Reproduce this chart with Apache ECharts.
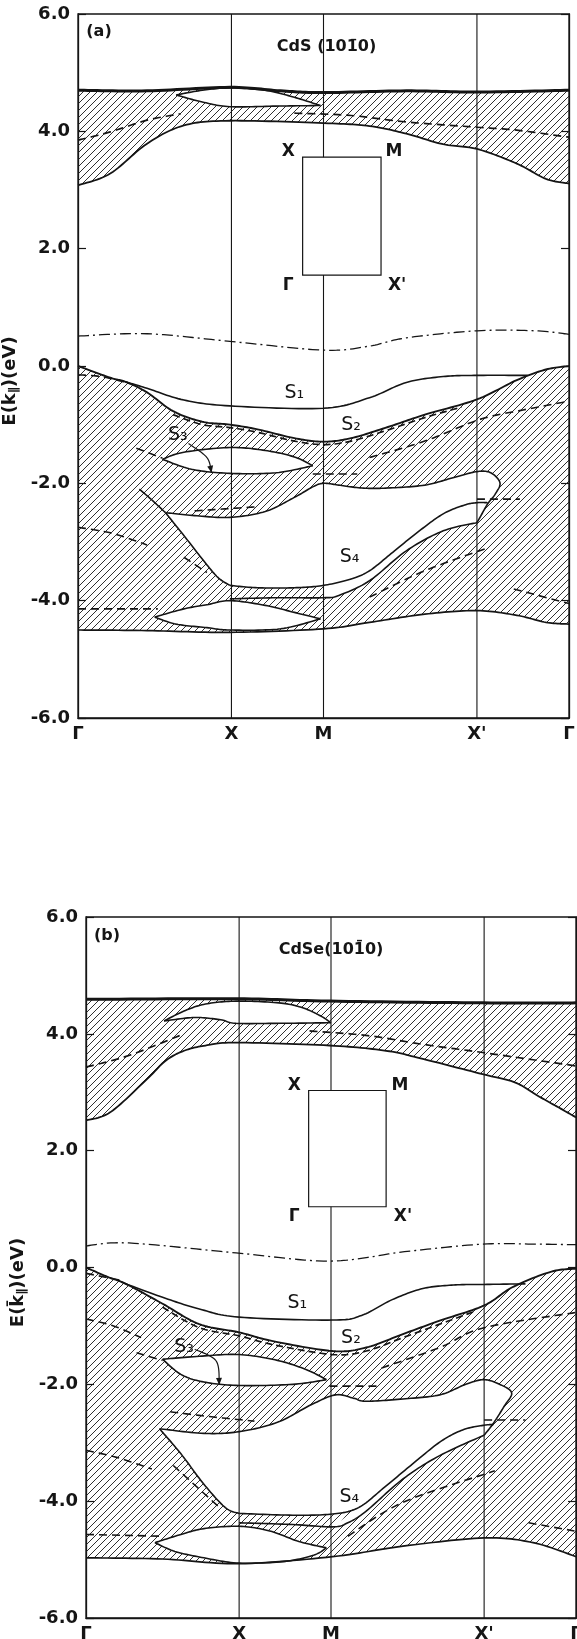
<!DOCTYPE html>
<html><head><meta charset="utf-8">
<script src="https://cdn.jsdelivr.net/npm/echarts@6.0.0/dist/echarts.min.js"></script>
<style>html,body{margin:0;padding:0;background:#fff}#c{width:577px;height:1639px}</style>
</head><body><div id="c"></div><script>
// ---------- axes ----------
const K_TICKS = [0, 1, 1.6, 2.6, 3.2];
const K_NAMES = ['Γ', 'X', 'M', "X'", 'Γ'];
const E_MIN = -6, E_MAX = 6, E_STEP = 2;

// ---------- panel (a) CdS ----------
const A_cbTop = [[0,4.70],[0.45,4.69],[0.99,4.75],[1.32,4.69],[1.6,4.66],[2.14,4.69],[2.6,4.67],[3.2,4.70]];
const A_cbBot = [[0,3.08],[0.21,3.28],[0.45,3.79],[0.69,4.10],[0.99,4.18],[1.6,4.14],[1.9,4.09],[2.14,3.96],[2.38,3.78],[2.6,3.70],[2.86,3.45],[3.05,3.19],[3.2,3.11]];
const A_cbLensUp = [[0.64,4.62],[0.81,4.70],[0.99,4.74],[1.22,4.70],[1.41,4.58],[1.58,4.44]];
const A_cbLensLo = [[0.64,4.62],[0.81,4.50],[0.99,4.42],[1.29,4.43],[1.58,4.44]];
const A_cbDash1 = [[0,3.85],[0.21,3.99],[0.45,4.19],[0.67,4.30]];
const A_cbDash2 = [[1.41,4.31],[1.78,4.27],[2.14,4.16],[2.6,4.07],[2.86,4.02],[3.2,3.90]];
const A_dashDot = [[0,0.51],[0.45,0.55],[0.99,0.42],[1.6,0.27],[1.9,0.34],[2.14,0.48],[2.6,0.60],[2.98,0.60],[3.2,0.54]];
const A_vbTop = [[0,0.0],[0.21,-0.20],[0.31,-0.27],[0.45,-0.45],[0.62,-0.77],[0.81,-0.95],[0.99,-1.00],[1.17,-1.08],[1.41,-1.23],[1.6,-1.29],[1.78,-1.23],[2.02,-1.04],[2.26,-0.83],[2.6,-0.57],[2.86,-0.24],[3.05,-0.06],[3.2,0.0]];
const A_vbBot = [[0,-4.50],[0.45,-4.51],[0.99,-4.54],[1.6,-4.48],[1.9,-4.37],[2.26,-4.23],[2.6,-4.17],[2.86,-4.25],[3.05,-4.37],[3.2,-4.40]];
const A_s1 = [[0.31,-0.27],[0.45,-0.38],[0.69,-0.58],[0.99,-0.68],[1.6,-0.72],[1.9,-0.54],[2.14,-0.28],[2.38,-0.18],[2.6,-0.16],[2.93,-0.16]];
const A_s2 = [[0.62,-0.83],[0.81,-1.0],[0.99,-1.05],[1.17,-1.13],[1.41,-1.28],[1.6,-1.34],[1.78,-1.28],[2.02,-1.09],[2.26,-0.88],[2.5,-0.70]];
const A_s3Up = [[0.55,-1.59],[0.69,-1.47],[0.99,-1.39],[1.22,-1.44],[1.41,-1.55],[1.53,-1.70]];
const A_s3Lo = [[0.55,-1.59],[0.74,-1.76],[0.99,-1.83],[1.29,-1.82],[1.53,-1.70]];
const A_gapUp = [[0.57,-2.50],[0.76,-2.55],[0.99,-2.58],[1.22,-2.48],[1.41,-2.24],[1.53,-2.06],[1.6,-2.0],[1.70,-2.03],[1.85,-2.08],[2.02,-2.08],[2.26,-2.03],[2.45,-1.90],[2.6,-1.80],[2.69,-1.82],[2.75,-1.99],[2.72,-2.18],[2.67,-2.35],[2.62,-2.58],[2.6,-2.67]];
const A_diag = [[0.57,-2.50],[0.69,-2.89],[0.81,-3.29],[0.91,-3.60],[0.99,-3.74]];
const A_s4 = [[0.99,-3.74],[1.17,-3.78],[1.41,-3.78],[1.6,-3.74],[1.78,-3.63],[1.9,-3.49],[2.04,-3.20],[2.21,-2.84],[2.38,-2.52],[2.52,-2.37],[2.6,-2.33],[2.67,-2.33]];
const A_midLo = [[0.99,-3.97],[1.29,-3.95],[1.6,-3.95],[1.7,-3.91],[1.9,-3.66],[2.14,-3.15],[2.38,-2.81],[2.6,-2.67]];
const A_lowUp = [[0.50,-4.28],[0.69,-4.14],[0.84,-4.07],[0.99,-4.00],[1.22,-4.08],[1.41,-4.20],[1.58,-4.31]];
const A_lowLo = [[0.50,-4.28],[0.64,-4.40],[0.84,-4.46],[0.99,-4.50],[1.32,-4.48],[1.58,-4.31]];
const A_extra = [[0.40,-2.10],[0.48,-2.28],[0.57,-2.50]];
const A_arrow = [[0.72,-1.32],[0.84,-1.56],[0.87,-1.82]];
const A_dashes = [
  [[0,-0.15],[0.15,-0.18],[0.3,-0.27]],
  [[0.38,-1.40],[0.55,-1.57]],
  [[0,-2.75],[0.22,-2.85],[0.45,-3.05]],
  [[0.76,-2.47],[0.99,-2.43],[1.17,-2.40]],
  [[1.53,-1.84],[1.82,-1.84]],
  [[1.9,-1.56],[2.26,-1.28],[2.62,-0.91],[2.9,-0.75],[3.2,-0.60]],
  [[2.6,-2.27],[2.88,-2.27]],
  [[0.69,-3.26],[0.84,-3.52]],
  [[1.9,-3.94],[2.26,-3.49],[2.67,-3.10]],
  [[0,-4.14],[0.52,-4.14]],
  [[2.84,-3.80],[3.2,-4.05]]
];

// ---------- panel (b) CdSe ----------
const B_cbTop = [[0,4.59],[0.98,4.60],[1.59,4.56],[2.59,4.53],[3.2,4.53]];
const B_cbBot = [[0,2.52],[0.16,2.66],[0.40,3.23],[0.52,3.54],[0.64,3.71],[0.78,3.80],[0.98,3.85],[1.59,3.80],[1.96,3.71],[2.2,3.57],[2.59,3.31],[2.8,3.17],[2.95,2.94],[3.1,2.72],[3.2,2.57]];
const B_cbLensUp = [[0.51,4.22],[0.64,4.39],[0.78,4.51],[0.98,4.56],[1.26,4.53],[1.41,4.45],[1.53,4.31],[1.6,4.19]];
const B_cbLensLo = [[0.51,4.22],[0.71,4.28],[0.88,4.24],[0.98,4.18],[1.26,4.18],[1.6,4.19]];
const B_cbDash1 = [[0,3.43],[0.28,3.63],[0.64,4.00]];
const B_cbDash2 = [[1.46,4.05],[1.84,3.97],[2.2,3.82],[2.59,3.68],[3.2,3.45]];
const B_dashDot = [[0,0.37],[0.28,0.42],[0.98,0.25],[1.59,0.11],[2.08,0.27],[2.59,0.40],[2.93,0.40],[3.2,0.39]];
const B_vbTop = [[0,0.0],[0.14,-0.16],[0.26,-0.28],[0.5,-0.62],[0.74,-0.97],[1.0,-1.11],[1.22,-1.26],[1.61,-1.43],[1.83,-1.37],[2.07,-1.14],[2.31,-0.91],[2.6,-0.65],[2.79,-0.33],[3.04,-0.07],[3.2,-0.02]];
const B_vbBot = [[0,-4.97],[0.5,-4.99],[1.0,-5.07],[1.61,-4.95],[2.07,-4.77],[2.6,-4.63],[2.92,-4.71],[3.2,-4.95]];
const B_s1 = [[0.23,-0.25],[0.5,-0.51],[0.74,-0.71],[1.0,-0.85],[1.61,-0.90],[1.8,-0.82],[2.0,-0.55],[2.2,-0.36],[2.4,-0.30],[2.6,-0.29],[2.87,-0.28]];
const B_s2 = [[0.5,-0.68],[0.74,-1.03],[1.0,-1.17],[1.22,-1.32],[1.61,-1.49],[1.83,-1.43],[2.07,-1.20],[2.31,-0.97],[2.55,-0.74]];
const B_s3Up = [[0.5,-1.57],[0.74,-1.52],[1.0,-1.49],[1.25,-1.59],[1.44,-1.75],[1.57,-1.92]];
const B_s3Lo = [[0.5,-1.57],[0.62,-1.83],[0.77,-1.96],[1.0,-2.02],[1.35,-2.00],[1.57,-1.92]];
const B_gapUp = [[0.48,-2.76],[0.77,-2.84],[1.0,-2.81],[1.25,-2.65],[1.47,-2.35],[1.63,-2.18],[1.75,-2.24],[1.83,-2.29],[2.07,-2.25],[2.31,-2.18],[2.48,-2.00],[2.6,-1.92],[2.71,-2.01],[2.78,-2.15],[2.73,-2.38],[2.66,-2.67],[2.6,-2.87]];
const B_diag = [[0.48,-2.76],[0.62,-3.19],[0.77,-3.71],[0.91,-4.11],[1.0,-4.21]];
const B_s4 = [[1.0,-4.21],[1.35,-4.24],[1.61,-4.22],[1.78,-4.11],[1.95,-3.76],[2.12,-3.39],[2.31,-2.99],[2.46,-2.78],[2.6,-2.70],[2.66,-2.69]];
const B_midLo = [[1.0,-4.37],[1.35,-4.40],[1.61,-4.44],[1.71,-4.37],[1.83,-4.17],[2.07,-3.62],[2.31,-3.22],[2.6,-2.87]];
const B_lowUp = [[0.45,-4.71],[0.62,-4.57],[0.77,-4.47],[1.0,-4.43],[1.2,-4.51],[1.39,-4.69],[1.57,-4.80]];
const B_lowLo = [[0.45,-4.71],[0.58,-4.86],[0.77,-4.97],[1.0,-5.06],[1.3,-5.03],[1.49,-4.92],[1.57,-4.80]];
const B_arrow = [[0.71,-1.40],[0.85,-1.60],[0.87,-2.01]];
const B_dashes = [
  [[0,-0.10],[0.23,-0.22]],
  [[0,-0.88],[0.18,-1.00],[0.36,-1.20]],
  [[0.33,-1.46],[0.5,-1.59]],
  [[0.55,-2.47],[0.8,-2.55],[1.1,-2.63]],
  [[1.59,-2.03],[1.9,-2.03]],
  [[1.93,-1.72],[2.31,-1.37],[2.6,-1.03],[3.2,-0.77]],
  [[2.6,-2.61],[2.87,-2.61]],
  [[0,-3.13],[0.2,-3.25],[0.43,-3.45]],
  [[0.57,-3.39],[0.86,-4.08]],
  [[0,-4.57],[0.5,-4.60]],
  [[1.71,-4.60],[2.07,-4.02],[2.67,-3.48]],
  [[2.89,-4.37],[3.19,-4.51]]
];

// ---------- annotation texts ----------
const A_TEXTS = ['(a)', 'CdS (101\u03040)', 'S\u2081', 'S\u2082', 'S\u2083', 'S\u2084'];
const B_TEXTS = ['(b)', 'CdSe(101\u03040)', 'S\u2081', 'S\u2082', 'S\u2083', 'S\u2084'];
const INSET_NAMES = ['X', 'M', 'Γ', "X'"];

// ---------- layout (positions in axis units) ----------
const LAYOUT = [
  { grid:{left:78, top:14, width:491, height:704}, nameGap:44,
    textPos:[[0.137,5.69],[1.62,5.44],[1.41,-0.46],[1.78,-1.00],[0.65,-1.18],[1.77,-3.26]],
    inset:[[1.464,3.56],[1.975,1.55]],
    insetPos:[[1.37,3.65],[2.06,3.65],[1.37,1.37],[2.08,1.37]] },
  { grid:{left:86, top:917, width:490, height:701}, nameGap:51,
    textPos:[[0.137,5.67],[1.6,5.43],[1.38,-0.61],[1.73,-1.21],[0.64,-1.36],[1.72,-3.93]],
    inset:[[1.454,3.03],[1.96,1.04]],
    insetPos:[[1.36,3.12],[2.05,3.12],[1.36,0.88],[2.07,0.88]] }
];

const PANELS = [
  {cbTop:A_cbTop, cbBot:A_cbBot, cbLensUp:A_cbLensUp, cbLensLo:A_cbLensLo, cbDash:[A_cbDash1,A_cbDash2], dashDot:A_dashDot,
   vbTop:A_vbTop, vbBot:A_vbBot, s1:A_s1, s2:A_s2, s3Up:A_s3Up, s3Lo:A_s3Lo, gapUp:A_gapUp, diag:A_diag, s4:A_s4, midLo:A_midLo,
   lowUp:A_lowUp, lowLo:A_lowLo, extra:A_extra, arrow:A_arrow, dashes:A_dashes, texts:A_TEXTS},
  {cbTop:B_cbTop, cbBot:B_cbBot, cbLensUp:B_cbLensUp, cbLensLo:B_cbLensLo, cbDash:[B_cbDash1,B_cbDash2], dashDot:B_dashDot,
   vbTop:B_vbTop, vbBot:B_vbBot, s1:B_s1, s2:B_s2, s3Up:B_s3Up, s3Lo:B_s3Lo, gapUp:B_gapUp, diag:B_diag, s4:B_s4, midLo:B_midLo,
   lowUp:B_lowUp, lowLo:B_lowLo, extra:null, arrow:B_arrow, dashes:B_dashes, texts:B_TEXTS}
];

// ---------- rendering helpers ----------
const INK = '#151515';
const FONT = '"DejaVu Sans", "Liberation Sans", sans-serif';
function makeHatch(){
  const s = 7, c = document.createElement('canvas'); c.width = s; c.height = s;
  const g = c.getContext('2d'); g.strokeStyle = '#1a1a1a'; g.lineWidth = 0.9;
  g.beginPath(); g.moveTo(0, s); g.lineTo(s, 0); g.moveTo(-1, 1); g.lineTo(1, -1); g.moveTo(s-1, s+1); g.lineTo(s+1, s-1); g.stroke();
  return c;
}
const HATCH = {image: makeHatch(), repeat: 'repeat'};
const rev = a => a.slice().reverse();

function spline(px){
  const n = px.length; if (n < 3) return px.slice();
  const out = [];
  for (let i = 0; i < n - 1; i++){
    const p0 = px[Math.max(0,i-1)], p1 = px[i], p2 = px[i+1], p3 = px[Math.min(n-1,i+2)];
    const c1 = [p1[0]+(p2[0]-p0[0])/6, p1[1]+(p2[1]-p0[1])/6];
    const c2 = [p2[0]-(p3[0]-p1[0])/6, p2[1]-(p3[1]-p1[1])/6];
    for (let j = 0; j < 14; j++){
      const t = j/14, u = 1-t;
      out.push([u*u*u*p1[0]+3*u*u*t*c1[0]+3*u*t*t*c2[0]+t*t*t*p2[0],
                u*u*u*p1[1]+3*u*u*t*c1[1]+3*u*t*t*c2[1]+t*t*t*p2[1]]);
    }
  }
  out.push(px[n-1]); return out;
}
const toPx = (api, arr) => arr.map(d => api.coord(d));
function region(api, pieces, fill){
  const pts = []; pieces.forEach(pc => spline(toPx(api, pc)).forEach(q => pts.push(q)));
  return {type:'polygon', shape:{points:pts}, style:{fill:fill, stroke:null}};
}
function curve(api, arr, w, dash){
  return {type:'polyline', shape:{points:spline(toPx(api, arr))}, style:{stroke:INK, lineWidth:w, lineDash:dash||null, fill:null, lineCap:'butt'}};
}
function text(api, t, pos, size, weight){
  const p = api.coord(pos);
  return {type:'text', x:p[0], y:p[1], style:{text:t, fill:INK, font:(weight||'normal')+' '+(size||17)+'px '+FONT, align:'center', verticalAlign:'middle', textAlign:'center', textVerticalAlign:'middle'}};
}

const series = [];
function add(gi, fn){
  series.push({type:'custom', coordinateSystem:'cartesian2d', xAxisIndex:gi, yAxisIndex:gi*2, data:[[0,0]],
    silent:true, animation:false, renderItem:(params, api) => ({type:'group', children:fn(api)})});
}

PANELS.forEach((P, gi) => {
  const L = LAYOUT[gi];
  // hatched projected bulk bands
  add(gi, api => [
    region(api, [P.cbTop, rev(P.cbBot)], HATCH),
    region(api, [P.vbTop, rev(P.vbBot)], HATCH),
    // gaps inside the bands
    region(api, [P.cbLensUp, rev(P.cbLensLo)], '#fff'),
    region(api, [P.s3Up, rev(P.s3Lo)], '#fff'),
    region(api, [P.gapUp, rev(P.midLo.slice(2)), rev(P.s4.slice(0,4)), rev(P.diag)], '#fff'),
    region(api, [P.lowUp, rev(P.lowLo)], '#fff')
  ]);
  // symmetry point verticals
  add(gi, api => K_TICKS.slice(1, 4).map(k => ({type:'line',
    shape:{x1:api.coord([k,E_MIN])[0], y1:api.coord([k,E_MIN])[1], x2:api.coord([k,E_MAX])[0], y2:api.coord([k,E_MAX])[1]},
    style:{stroke:INK, lineWidth:1.1}})));
  // band edges and surface states
  add(gi, api => {
    const els = [
      curve(api, P.cbTop, 3), curve(api, P.cbBot, 1.8), curve(api, P.cbLensUp, 1.6), curve(api, P.cbLensLo, 1.6),
      curve(api, P.vbTop, 1.9), curve(api, P.vbBot, 1.7), curve(api, P.s1, 1.6),
      curve(api, P.s3Up, 1.6), curve(api, P.s3Lo, 1.6), curve(api, P.gapUp, 1.6), curve(api, P.diag, 1.6),
      curve(api, P.s4, 1.6), curve(api, P.midLo, 1.6), curve(api, P.lowUp, 1.6), curve(api, P.lowLo, 1.6),
      curve(api, P.dashDot, 1.3, [11,4,2,4]), curve(api, P.s2, 1.7, [7,4])
    ];
    if (P.extra) els.push(curve(api, P.extra, 1.6));
    P.cbDash.forEach(d => els.push(curve(api, d, 1.7, [8,5])));
    P.dashes.forEach(d => els.push(curve(api, d, 1.6, [8,5])));
    // S3 arrow
    const ap = spline(toPx(api, P.arrow));
    els.push({type:'polyline', shape:{points:ap}, style:{stroke:INK, lineWidth:1.2, fill:null}});
    const e = ap[ap.length-1], b = ap[ap.length-4];
    const ang = Math.atan2(e[1]-b[1], e[0]-b[0]), hl = 7, hw = 3;
    els.push({type:'polygon', shape:{points:[e,
      [e[0]-hl*Math.cos(ang)+hw*Math.sin(ang), e[1]-hl*Math.sin(ang)-hw*Math.cos(ang)],
      [e[0]-hl*Math.cos(ang)-hw*Math.sin(ang), e[1]-hl*Math.sin(ang)+hw*Math.cos(ang)]]}, style:{fill:INK}});
    return els;
  });
  // inset Brillouin zone + labels
  add(gi, api => {
    const p1 = api.coord(L.inset[0]), p2 = api.coord(L.inset[1]);
    const els = [{type:'rect', shape:{x:p1[0], y:p1[1], width:p2[0]-p1[0], height:p2[1]-p1[1]}, style:{fill:'#fff', stroke:INK, lineWidth:1.2}}];
    INSET_NAMES.forEach((t, i) => els.push(text(api, t, L.insetPos[i], 17, 'bold')));
    P.texts.forEach((t, i) => els.push(text(api, t, L.textPos[i], i < 2 ? 16 : 19, i < 2 ? 'bold' : 'normal')));
    return els;
  });
});

// ---------- axes ----------
const axisLine = {show:true, onZero:false, lineStyle:{color:INK, width:1.3}};
const xAxis = [], yAxis = [];
LAYOUT.forEach((L, gi) => {
  xAxis.push({gridIndex:gi, type:'value', min:K_TICKS[0], max:K_TICKS[K_TICKS.length-1], axisLine,
    axisTick:{show:false}, splitLine:{show:false},
    axisLabel:{customValues:K_TICKS, color:INK, fontSize:18, fontWeight:'bold', fontFamily:FONT, margin:7,
      formatter:(v) => K_NAMES[K_TICKS.findIndex(t => Math.abs(t - v) < 1e-6)] || ''}});
  const yBase = {gridIndex:gi, type:'value', min:E_MIN, max:E_MAX, interval:E_STEP, axisLine, splitLine:{show:false},
    axisTick:{show:true, inside:true, length:8, lineStyle:{color:INK, width:1.2}}};
  yAxis.push(Object.assign({}, yBase, {position:'left',
    axisLabel:{color:INK, fontSize:18, fontWeight:'bold', fontFamily:FONT, margin:8, formatter:v => v.toFixed(1)},
    name:'E(k\u0304{s|\u2225})(eV)', nameLocation:'middle', nameGap:L.nameGap, nameRotate:90,
    nameTextStyle:{color:INK, fontSize:18, fontFamily:FONT, fontWeight:'bold', padding:[0,30,0,0],
      rich:{s:{fontSize:12, fontFamily:FONT, fontWeight:'bold', color:INK, padding:[6,0,0,0]}}}}));
  yAxis.push(Object.assign({}, yBase, {position:'right', axisLabel:{show:false}}));
});

const chart = echarts.init(document.getElementById('c'), null, {renderer:'canvas'});
chart.setOption({
  animation:false, backgroundColor:'#fff',
  grid: LAYOUT.map(L => Object.assign({show:true, borderColor:INK, borderWidth:1.3, backgroundColor:'transparent',
    containLabel:false, outerBoundsMode:'none'}, L.grid)),
  xAxis, yAxis, series
});
</script></body></html>
